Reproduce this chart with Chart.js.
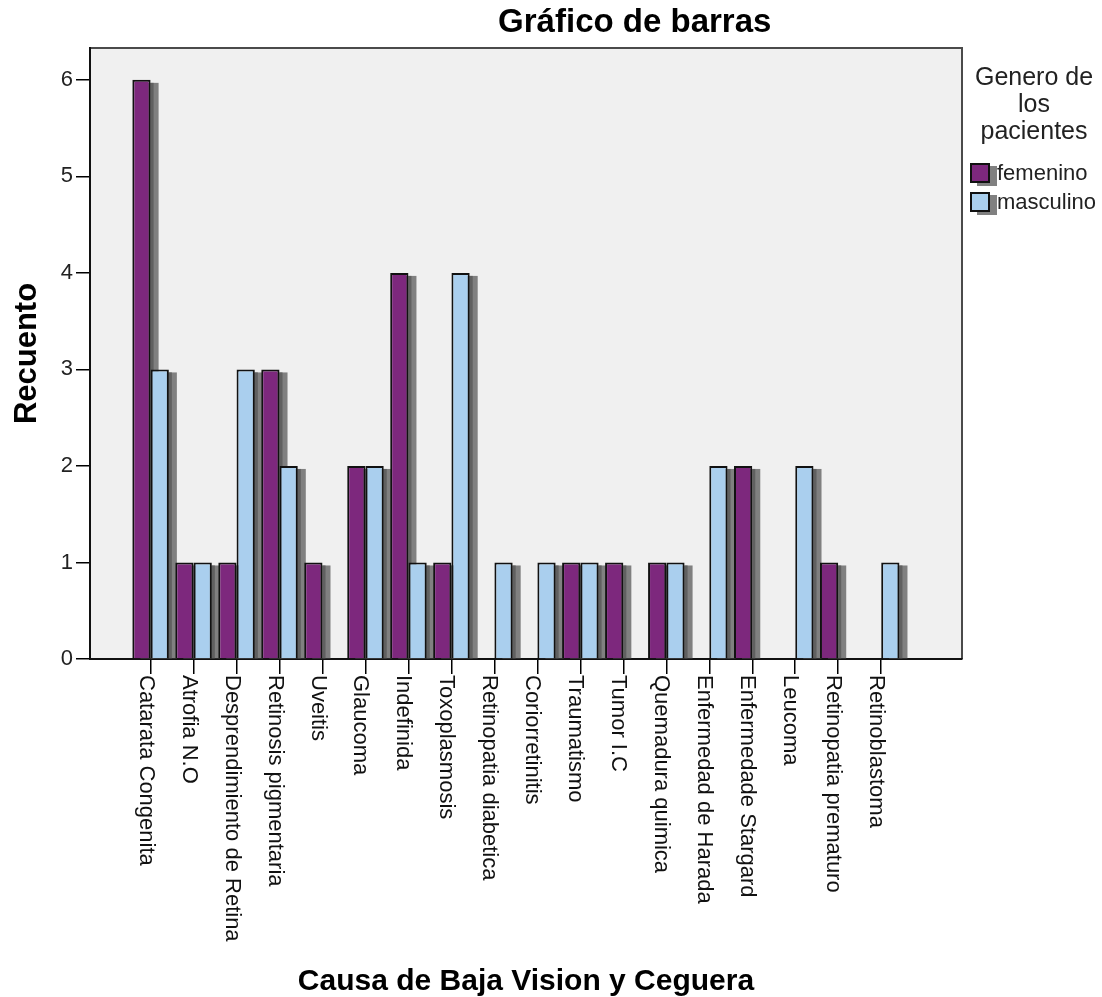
<!DOCTYPE html>
<html>
<head>
<meta charset="utf-8">
<title>Gráfico de barras</title>
<script src="https://cdn.jsdelivr.net/npm/chart.js@4"></script>
<style>
  html, body { margin: 0; padding: 0; background: #fff; }
  #wrap { width: 1102px; height: 997px; position: relative; }
</style>
</head>
<body>
<div id="wrap"><canvas id="barChart"></canvas></div>
<script>
var causas = [
  "Catarata Congenita", "Atrofia N.O", "Desprendimiento de Retina",
  "Retinosis pigmentaria", "Uveitis", "Glaucoma", "Indefinida",
  "Toxoplasmosis", "Retinopatia diabetica", "Coriorretinitis",
  "Traumatismo", "Tumor I.C", "Quemadura quimica", "Enfermedad de Harada",
  "Enfermedade Stargard", "Leucoma", "Retinopatia prematuro", "Retinoblastoma"
];
var femenino  = [6, 1, 1, 3, 1,    2, 4, 1, null, null, 1, 1,    1, null, 2,    null, 1,    null];
var masculino = [3, 1, 3, 2, null, 2, 1, 4, 1,    1,    1, null, 1, 2,    null, 2,    null, 1];
var generos = ["femenino", "masculino"];
var colores = ["#7d287d", "#aacfee"];
var tituloLeyenda = ["Genero de", "los", "pacientes"];

var FONT = "'Liberation Sans', Arial, sans-serif";

function toPoints(values) {
  return values.map((v, i) => ({ x: i, y: v }));
}

// plot background, frame and bar shadows
var marcoPlugin = {
  id: "marco",
  beforeDraw(chart) {
    var ctx = chart.ctx, a = chart.chartArea;
    ctx.save();
    ctx.fillStyle = "#f0f0f0";
    ctx.fillRect(a.left, a.top, a.right - a.left, a.bottom - a.top);
    ctx.strokeStyle = "#4a4a4a";
    ctx.lineWidth = 2;
    ctx.beginPath();
    ctx.moveTo(a.left, a.top);
    ctx.lineTo(a.right, a.top);
    ctx.lineTo(a.right, a.bottom);
    ctx.stroke();
    ctx.restore();
  },
  beforeDatasetsDraw(chart) {
    var ctx = chart.ctx, a = chart.chartArea;
    ctx.save();
    ctx.beginPath();
    ctx.rect(a.left, a.top, a.right - a.left, a.bottom - a.top);
    ctx.clip();
    chart.data.datasets.forEach((ds, di) => {
      chart.getDatasetMeta(di).data.forEach((bar) => {
        var p = bar.getProps(["x", "y", "base", "width"], true);
        if (p.y == null || isNaN(p.y)) return;
        ctx.fillStyle = "#808080";
        ctx.fillRect(p.x - p.width / 2 + 8, p.y + 3, p.width, p.base - p.y - 3);
        ctx.fillStyle = "#606060";
        ctx.fillRect(p.x + p.width / 2, p.y + 3, 3, p.base - p.y - 3);
      });
    });
    ctx.restore();
  },
  afterDraw(chart) {
    var ctx = chart.ctx, a = chart.chartArea;
    var xs = chart.scales.x;
    ctx.save();
    // title
    ctx.fillStyle = "#000";
    ctx.font = "bold 33px " + FONT;
    ctx.textAlign = "center";
    ctx.textBaseline = "middle";
    ctx.fillText("Gráfico de barras", chart.width * 0.576, 23);

    // rotated category labels
    ctx.font = "22px " + FONT;
    ctx.fillStyle = "#111";
    ctx.textAlign = "left";
    ctx.textBaseline = "alphabetic";
    causas.forEach((c, i) => {
      var px = xs.getPixelForValue(i);
      ctx.save();
      ctx.translate(px, a.bottom + 16);
      ctx.rotate(Math.PI / 2);
      ctx.fillText(c, 0, 11);
      ctx.restore();
    });

    // legend
    var lx = a.right + 8;
    ctx.font = "25px " + FONT;
    ctx.fillStyle = "#222";
    ctx.textAlign = "center";
    ctx.textBaseline = "middle";
    tituloLeyenda.forEach((t, i) => {
      ctx.fillText(t, a.right + 72, 78 + i * 27);
    });
    ctx.font = "22px " + FONT;
    ctx.textAlign = "left";
    generos.forEach((g, i) => {
      var by = 163 + i * 29;
      ctx.fillStyle = "#808080";
      ctx.fillRect(lx + 7, by + 3, 20, 20);
      ctx.fillStyle = colores[i];
      ctx.fillRect(lx, by, 20, 20);
      ctx.strokeStyle = "#111";
      ctx.lineWidth = 2;
      ctx.strokeRect(lx + 1, by + 1, 18, 18);
      ctx.fillStyle = "#222";
      ctx.fillText(g, lx + 27, by + 11);
    });
    ctx.restore();
  }
};

Chart.defaults.font.family = FONT;

var ctx = document.getElementById("barChart").getContext("2d");
window.myBarChart = new Chart(ctx, {
  type: "bar",
  data: {
    datasets: [
      {
        label: generos[0],
        data: toPoints(femenino),
        backgroundColor: colores[0],
        borderColor: "#111",
        borderWidth: 2,
      },
      {
        label: generos[1],
        data: toPoints(masculino),
        backgroundColor: colores[1],
        borderColor: "#111",
        borderWidth: 2,
      },
    ],
  },
  plugins: [marcoPlugin],
  options: {
    responsive: true,
    maintainAspectRatio: false,
    animation: false,
    layout: { padding: { left: 0, top: 48, right: 140, bottom: 0 } },
    datasets: { bar: { categoryPercentage: 0.85, barPercentage: 1 } },
    plugins: {
      legend: { display: false },
      tooltip: { enabled: false },
    },
    scales: {
      x: {
        type: "linear",
        offset: false,
        min: -1.41,
        max: 18.88,
        afterBuildTicks: (s) => {
          s.ticks = causas.map((c, i) => ({ value: i }));
        },
        ticks: { display: false },
        grid: { offset: false, drawOnChartArea: false, drawTicks: true, tickLength: 15, color: "#000", lineWidth: 1.5 },
        border: { display: true, color: "#111", width: 2 },
        title: {
          display: true,
          text: "Causa de Baja Vision y Ceguera",
          color: "#000",
          font: { size: 30, weight: "bold", lineHeight: 1 },
          padding: { top: 7, bottom: 0 },
        },
        afterFit: (s) => { s.height = 997 - 659; },
      },
      y: {
        min: 0,
        max: 6.33,
        ticks: { stepSize: 1, includeBounds: false, color: "#222", font: { size: 22 }, padding: 3 },
        grid: { drawOnChartArea: false, tickLength: 14, color: "#000", lineWidth: 1.5 },
        border: { display: true, color: "#111", width: 2 },
        title: {
          display: true,
          text: "Recuento",
          color: "#000",
          font: { size: 31, weight: "bold", lineHeight: 1 },
          padding: { top: 12, bottom: 0 },
        },
        afterFit: (s) => { s.width = 90; },
      },
    },
  },
});
</script>
</body>
</html>
